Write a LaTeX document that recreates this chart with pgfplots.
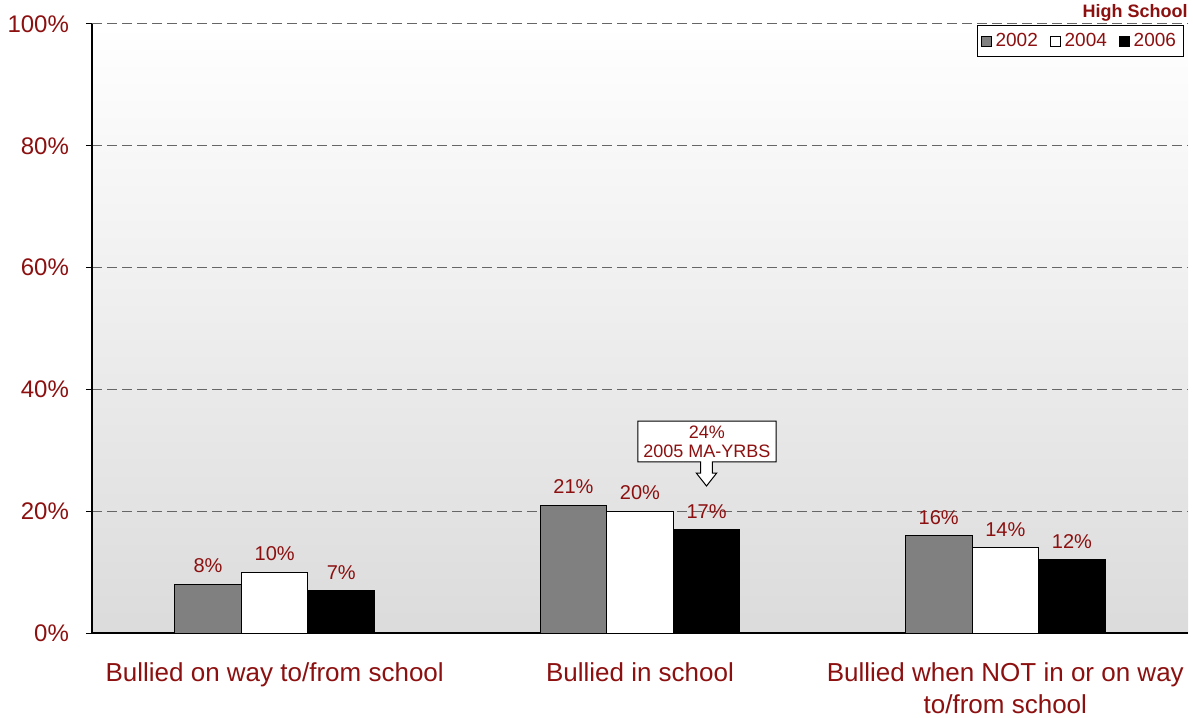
\documentclass[border=0pt]{standalone}
\usepackage{fontspec}
\setmainfont{Liberation Sans}
\usepackage{pgfplots}
\pgfplotsset{compat=1.18}
\definecolor{txt}{RGB}{140,16,16}
\definecolor{bargray}{RGB}{128,128,128}

\begin{document}
\begin{tikzpicture}
\begin{axis}[
    at={(0pt,0pt)}, anchor=south west,
    scale only axis,
    width=548pt, height=304.5pt,
    ybar=0pt, bar width=33.3pt,
    xmin=-0.5, xmax=2.5, ymin=0, ymax=100,
    xtick={0,1,2},
    xticklabels={Bullied on way to/from school, Bullied in school, {Bullied when NOT in or on way\\to/from school}},
    xticklabel style={align=center, font=\fontsize{13}{16}\selectfont, text=txt, yshift=-8.5pt},
    x tick style={draw=none},
    ytick={0,20,40,60,80,100},
    yticklabel={\pgfmathprintnumber{\tick}\%},
    yticklabel style={font=\fontsize{12}{14}\selectfont, text=txt, xshift=-5pt},
    /pgf/number format/assume math mode=true,
    tick align=outside, major tick length=3pt,
    y tick style={black, line width=0.5pt},
    axis x line*=bottom, axis y line*=left,
    axis line style={black, line width=0.6pt},
    ymajorgrids, grid style={black!60, dash pattern=on 5pt off 2.5pt, line width=0.5pt},
    axis background/.style={top color=white, bottom color=black!14},
    nodes near coords={\pgfmathprintnumber{\pgfplotspointmeta}\%},
    every node near coord/.append style={font=\fontsize{10}{12}\selectfont, text=txt, yshift=2pt},
    legend columns=3,
    legend style={at={(rel axis cs:0.9964,0.9984)}, anchor=north east, draw=black, fill=white,
        font=\fontsize{9.5}{11}\selectfont, text=txt, inner sep=1.8pt, line width=0.5pt,
        /tikz/every even column/.append style={column sep=4pt}},
    legend image code/.code={\draw[#1, draw=black, line width=0.4pt] (0pt,-2.5pt) rectangle (5pt,2.5pt);},
    clip=false,
]
  \addplot[fill=bargray, draw=black, line width=0.5pt] coordinates {(0,8) (1,21) (2,16)};
  \addplot[fill=white, draw=black, line width=0.5pt] coordinates {(0,10) (1,20) (2,14)};
  \addplot[fill=black, draw=black, line width=0.5pt] coordinates {(0,7) (1,17) (2,12)};
  \legend{2002,2004,2006}

  % callout
  \draw[black, fill=white, line width=0.5pt]
    (axis cs:0.9945,34.81) -- (axis cs:1.3723,34.81) -- (axis cs:1.3723,28.08)
    -- (axis cs:1.198,28.08) -- (axis cs:1.198,26.27) -- (axis cs:1.210,26.27)
    -- (axis cs:1.182,24.14) -- (axis cs:1.154,26.27) -- (axis cs:1.166,26.27)
    -- (axis cs:1.166,28.08) -- (axis cs:0.9945,28.08) -- cycle;
  \node[align=center, text=txt, font=\fontsize{9}{9.5}\selectfont] at (axis cs:1.183,31.45) {24\%\\2005 MA-YRBS};

  \node[anchor=base east, text=txt, font=\bfseries\fontsize{9}{11}\selectfont, inner sep=0pt] at (rel axis cs:1,1) [yshift=3pt] {High School};
\end{axis}
\pgfresetboundingbox
\useasboundingbox (-46pt,-42pt) rectangle (550.5pt,316.5pt);
\end{tikzpicture}
\end{document}
